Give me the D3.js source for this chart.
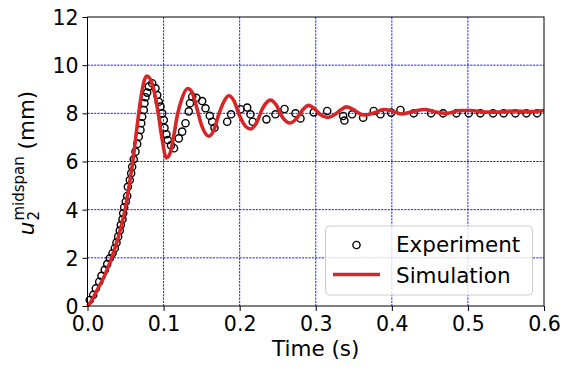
<!DOCTYPE html>
<html><head><meta charset="utf-8">
<script src="https://cdn.jsdelivr.net/npm/d3@7"></script>
<style>
html,body{margin:0;padding:0;background:#fff;}
svg{display:block;font-family:"DejaVu Sans",sans-serif;}
</style></head>
<body>
<svg id="c" width="572" height="371"></svg>
<script>
// ---- data ----
const expTime = [0.0030,0.0075,0.0109,0.0154,0.0184,0.0227,0.0259,0.0293,0.0329,0.0359,0.0381,0.0403,0.0424,0.0438,0.0460,0.0469,0.0482,0.0503,0.0522,0.0530,0.0556,0.0574,0.0587,0.0608,0.0631,0.0653,0.0674,0.0696,0.0706,0.0719,0.0740,0.0749,0.0762,0.0784,0.0806,0.0850,0.0894,0.0916,0.0937,0.0959,0.0982,0.1003,0.1012,0.1038,0.1055,0.1097,0.1137,0.1200,0.1244,0.1288,0.1331,0.1347,0.1376,0.1432,0.1507,0.1551,0.1607,0.1639,0.1669,0.1836,0.1888,0.2011,0.2099,0.2142,0.2172,0.2352,0.2470,0.2589,0.2733,0.2799,0.2974,0.3150,0.3360,0.3377,0.3478,0.3623,0.3762,0.3850,0.3991,0.4113,0.4288,0.4516,0.4674,0.4849,0.5011,0.5164,0.5331,0.5470,0.5624,0.5769,0.5909];
const expDisp = [0.25,0.46,0.73,1.01,1.25,1.50,1.74,1.98,2.19,2.40,2.63,2.88,3.13,3.36,3.60,3.85,4.10,4.33,4.57,4.95,5.23,5.51,5.78,6.09,6.41,6.73,7.03,7.31,7.59,7.86,8.14,8.42,8.67,8.86,9.11,9.25,9.04,8.76,8.48,8.28,8.00,7.72,7.40,7.13,6.89,6.67,6.55,6.96,7.24,7.59,8.08,8.42,8.69,8.64,8.51,8.21,7.90,7.65,7.40,7.65,7.96,8.17,8.24,7.96,7.65,7.75,7.96,8.18,8.00,7.79,8.04,8.10,7.89,7.70,7.96,7.82,8.10,7.96,8.03,8.14,8.00,8.00,8.00,8.00,8.00,8.00,8.00,8.00,8.00,8.00,8.00];

const simTime = [0,0.005,0.010,0.015,0.020,0.025,0.030,0.035,0.040,0.045,0.050,0.055,0.060,0.065,0.070,0.075,0.078,0.082,0.087,0.093,0.098,0.1035,0.108,0.113,0.118,0.124,0.1315,0.137,0.143,0.150,0.1595,0.166,0.173,0.1795,0.1855,0.192,0.200,0.208,0.2145,0.222,0.230,0.2405,0.248,0.256,0.2665,0.275,0.283,0.2905,0.298,0.306,0.3155,0.325,0.333,0.3405,0.350,0.357,0.364,0.375,0.3895,0.400,0.4135,0.428,0.444,0.456,0.472,0.490,0.505,0.520,0.540,0.560,0.580,0.600];
const simDisp = [0,0.2,0.5,0.8,1.1,1.45,1.85,2.3,2.8,3.4,4.1,5.05,6.1,7.4,8.6,9.4,9.55,9.45,9.0,8.0,6.95,6.15,6.3,7.0,7.9,8.6,9.03,8.9,8.3,7.5,7.05,7.3,8.0,8.5,8.73,8.55,7.9,7.45,7.35,7.6,8.2,8.55,8.35,7.85,7.6,7.8,8.15,8.33,8.2,7.95,7.83,7.95,8.15,8.27,8.15,8.0,7.93,8.0,8.16,8.1,7.97,8.08,8.16,8.07,8.0,8.12,8.12,8.05,8.05,8.1,8.07,8.12];

const xTicks = [0.0,0.1,0.2,0.3,0.4,0.5,0.6];
const yTicks = [0,2,4,6,8,10,12];
const legendLabels = ["Experiment","Simulation"];

// ---- layout ----
const svg = d3.select("#c");
const L = 87.5, R = 544, T = 17, B = 306;
const x = d3.scaleLinear().domain([0,0.6]).range([L,R]);
const y = d3.scaleLinear().domain([0,12]).range([B,T]);
const red = "#d62728";
const tickFont = "20.5px";
const labFont = "21.5px";

// grid
const grid = svg.append("g");
grid.selectAll("line.gx").data(xTicks.slice(1,-1)).join("line")
  .attr("x1",d=>x(d)).attr("x2",d=>x(d)).attr("y1",T).attr("y2",B)
  .attr("stroke","#0000ff").attr("stroke-width",0.9).attr("stroke-dasharray","2.2,1.1");
grid.selectAll("line.gy").data(yTicks.slice(1,-1)).join("line")
  .attr("y1",d=>y(d)).attr("y2",d=>y(d)).attr("x1",L).attr("x2",R)
  .attr("stroke","#0000ff").attr("stroke-width",0.9).attr("stroke-dasharray","2.2,1.1");

// experiment markers
const exp = expTime.map((t,i)=>({t, u: expDisp[i]}));
svg.append("g").selectAll("circle").data(exp).join("circle")
  .attr("cx",d=>x(d.t)).attr("cy",d=>y(d.u)).attr("r",3.6)
  .attr("fill","none").attr("stroke","#000").attr("stroke-width",1.4);

// simulation line
const sim = simTime.map((t,i)=>({t, u: simDisp[i]}));
svg.append("path").datum(sim)
  .attr("d", d3.line().x(d=>x(d.t)).y(d=>y(d.u)).curve(d3.curveMonotoneX))
  .attr("fill","none").attr("stroke",red).attr("stroke-width",3.6)
  .attr("stroke-linejoin","round").attr("stroke-linecap","butt");

// axes
const xAxis = svg.append("g").attr("transform",`translate(0,${B})`)
  .call(d3.axisBottom(x).tickValues(xTicks).tickFormat(d3.format(".1f")).tickSize(5).tickPadding(4));
const yAxis = svg.append("g").attr("transform",`translate(${L},0)`)
  .call(d3.axisLeft(y).tickValues(yTicks).tickFormat(d3.format("d")).tickSize(5).tickPadding(4));
[xAxis,yAxis].forEach(a=>{
  a.select(".domain").remove();
  a.selectAll(".tick line").attr("stroke","#000").attr("stroke-width",1);
  a.selectAll(".tick text").attr("fill","#000")
    .style("font-family","DejaVu Sans").style("font-size",tickFont);
});
yAxis.selectAll(".tick text").attr("dy","0.36em");
xAxis.selectAll(".tick text").attr("dy","0.78em");

// frame
svg.append("rect").attr("x",L).attr("y",T).attr("width",R-L).attr("height",B-T)
  .attr("fill","none").attr("stroke","#000").attr("stroke-width",1);

// x label
svg.append("text").attr("x",(L+R)/2).attr("y",356).attr("text-anchor","middle")
  .style("font-size",labFont).attr("fill","#000").text("Time (s)");

// y label (u_2^midspan (mm)) rotated
const yl = svg.append("g").attr("transform","translate(34,163) rotate(-90)");
const uT = yl.append("text").style("font-size",labFont).style("font-style","italic").text("u");
const subT = yl.append("text").style("font-size","15px").text("2");
const supT = yl.append("text").style("font-size","15px").text("midspan");
const mmT = yl.append("text").style("font-size",labFont).text("\u00a0(mm)");
const wu = uT.node().getComputedTextLength();
const wsub = subT.node().getComputedTextLength();
const wsup = supT.node().getComputedTextLength();
const wmm = mmT.node().getComputedTextLength();
const total = wu + 1 + Math.max(wsub,wsup) + wmm;
let cx0 = -total/2;
uT.attr("x",cx0).attr("y",0);
subT.attr("x",cx0+wu+1).attr("y",5);
supT.attr("x",cx0+wu+1).attr("y",-10);
mmT.attr("x",cx0+wu+1+Math.max(wsub,wsup)).attr("y",0);

// legend
const lg = svg.append("g");
lg.append("rect").attr("x",325.5).attr("y",226).attr("width",207).attr("height",69).attr("rx",4)
  .attr("fill","#fff").attr("fill-opacity",0.8).attr("stroke","#cccccc").attr("stroke-width",1);
lg.append("circle").attr("cx",356.5).attr("cy",245).attr("r",3.6)
  .attr("fill","none").attr("stroke","#000").attr("stroke-width",1.4);
lg.append("line").attr("x1",333).attr("x2",380).attr("y1",274.5).attr("y2",274.5)
  .attr("stroke",red).attr("stroke-width",3.6);
lg.selectAll("text").data(legendLabels).join("text")
  .attr("x",396).attr("y",(d,i)=>252.3+i*30.5)
  .style("font-size","21.5px").attr("fill","#000").text(d=>d);
</script>
</body></html>
